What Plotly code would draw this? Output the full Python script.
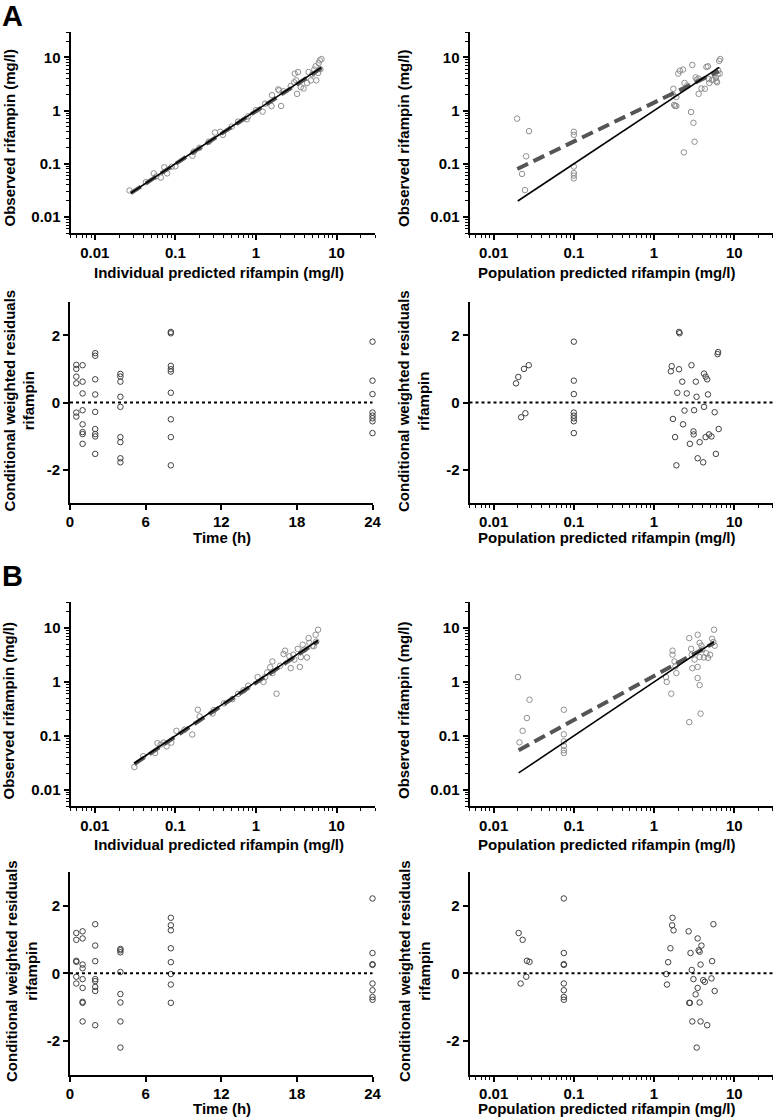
import math
import plotly.graph_objects as go

# ---------------- DATA ----------------
# Panel A1: observed vs individual predicted
a1_ipred = [0.027, 0.043, 0.054, 0.058, 0.066, 0.073, 0.079, 0.09, 0.1, 0.163, 0.17, 0.2, 0.26, 0.31, 0.36,
            0.39, 0.5, 0.6, 0.77, 0.8, 1.0, 1.21, 1.3, 1.56, 1.58, 1.89, 1.94, 2.05, 2.2, 2.7, 2.98, 3.03,
            3.16, 3.23, 3.33, 3.6, 3.9, 4.3, 4.5, 4.8, 5.0, 5.3, 5.5, 5.6, 5.9, 6.0, 6.2, 6.3, 6.5]
a1_dv = [0.0315, 0.045, 0.066, 0.058, 0.055, 0.086, 0.066, 0.088, 0.09, 0.142, 0.17, 0.2, 0.26, 0.387, 0.40,
         0.35, 0.5, 0.62, 0.686, 0.78, 1.02, 0.954, 1.35, 1.22, 1.95, 2.5, 2.4, 1.22, 2.3, 2.9, 3.4, 4.96,
         3.7, 2.06, 5.3, 2.75, 2.6, 3.3, 5.3, 3.7, 4.8, 5.9, 6.8, 3.7, 5.1, 7.8, 8.8, 6.0, 9.3]
a1_line_x = [0.028, 6.5]
a1_line_y = [0.028, 6.5]
a1_fit_x = [0.028, 6.5]
a1_fit_y = [0.028, 6.3]

# Panel A2: observed vs population predicted
a2_pred = [0.0196, 0.0276, 0.0254, 0.0226, 0.0246, 0.1, 0.1, 0.1, 0.1, 0.1, 0.1,
           1.74, 1.72, 1.78, 1.83, 1.9, 2.0, 2.1, 2.3, 1.9, 2.4, 2.6, 3.0, 2.9, 3.1, 3.2, 2.35,
           3.3, 3.4, 3.6, 3.6, 3.9, 4.3, 4.5, 4.7, 4.8, 4.9, 5.3, 5.5, 5.9, 6.1, 6.3, 6.2, 6.6,
           6.5, 6.7, 6.0]
a2_dv = [0.706, 0.41, 0.138, 0.0645, 0.032, 0.40, 0.35, 0.0887, 0.067, 0.060, 0.053,
         2.57, 2.0, 1.28, 1.22, 1.22, 4.95, 5.6, 5.9, 1.8, 3.3, 2.95, 7.2, 0.94, 0.59, 0.26, 0.164,
         4.2, 3.8, 4.0, 2.06, 2.6, 2.57, 6.6, 6.8, 3.9, 3.3, 3.8, 3.8, 4.1, 3.4, 5.7, 4.8, 4.95,
         8.6, 9.3, 3.6]
a2_line_x = [0.02, 6.5]
a2_line_y = [0.02, 6.5]
a2_fit_x = [0.0197, 6.4]
a2_fit_y = [0.080, 5.48]

# Panel A3: CWRES vs time
a3_time = [0.5] * 6 + [1] * 8 + [2] * 9 + [4] * 9 + [8] * 9 + [24] * 8
a3_cwres = [1.12, 1.0, 0.77, 0.57, -0.30, -0.42,
            1.11, 0.62, 0.27, -0.23, -0.65, -0.88, -0.94, -1.23,
            1.47, 1.39, 0.69, 0.24, -0.28, -0.79, -0.94, -1.01, -1.53,
            0.85, 0.77, 0.62, 0.17, -0.13, -1.03, -1.18, -1.66, -1.78,
            2.10, 2.06, 1.09, 0.99, 0.92, 0.29, -0.50, -1.03, -1.87,
            1.81, 0.65, 0.25, -0.30, -0.39, -0.47, -0.56, -0.91]

# Panel A4: CWRES vs population predicted
a4_pred = [0.019, 0.0203, 0.0239, 0.0274, 0.022, 0.0249,
           0.1, 0.1, 0.1, 0.1, 0.1, 0.1, 0.1, 0.1,
           2.05, 2.08, 1.66, 1.62, 2.05, 2.93, 4.2, 4.4, 4.6, 2.25, 3.32, 1.95, 2.56, 3.39, 4.7,
           6.2, 6.3, 2.4, 3.16, 4.2, 5.7, 1.72, 2.3, 6.4, 3.1, 3.12, 4.4, 4.85, 5.2, 1.83, 2.8,
           3.7, 5.9, 3.5, 4.1, 1.9]
a4_cwres = [0.57, 0.76, 1.0, 1.11, -0.44, -0.32,
            1.81, 0.65, 0.25, -0.30, -0.39, -0.47, -0.56, -0.91,
            2.10, 2.06, 1.08, 0.93, 0.99, 1.11, 0.86, 0.77, 0.69, 0.62, 0.62, 0.29, 0.27, 0.17, 0.24,
            1.44, 1.50, -0.24, -0.23, -0.13, -0.29, -0.49, -0.65, -0.79, -0.86, -0.95, -1.03, -0.95,
            -1.01, -1.03, -1.23, -1.18, -1.53, -1.66, -1.78, -1.87]

# Panel B1: observed vs individual predicted
b1_ipred = [0.031, 0.04, 0.056, 0.06, 0.066, 0.072, 0.078, 0.089, 0.103, 0.13, 0.162, 0.19, 0.2, 0.29,
            0.4, 0.51, 0.6, 0.8, 1.05, 1.24, 1.3, 1.38, 1.5, 1.6, 1.6, 1.8, 2.2, 2.3, 2.6, 2.7, 2.9,
            3.0, 3.3, 3.5, 3.6, 3.8, 4.0, 4.3, 4.5, 4.6, 5.0, 5.2, 5.5, 5.6, 5.9, 2.0, 0.7, 0.3]
b1_dv = [0.0264, 0.042, 0.048, 0.0735, 0.069, 0.075, 0.064, 0.075, 0.124, 0.13, 0.106, 0.305, 0.23, 0.26,
         0.4, 0.48, 0.6, 0.85, 1.23, 1.0, 1.23, 1.5, 1.87, 1.46, 2.4, 0.605, 3.3, 3.8, 3.0, 1.8, 3.2,
         2.6, 4.1, 1.9, 2.9, 4.9, 4.0, 2.85, 6.5, 5.3, 4.7, 4.6, 7.5, 5.6, 9.3, 2.0, 0.7, 0.3]
b1_line_x = [0.031, 5.9]
b1_line_y = [0.031, 5.9]
b1_fit_x = [0.031, 5.9]
b1_fit_y = [0.030, 5.7]

# Panel B2: observed vs population predicted
b2_pred = [0.0201, 0.021, 0.023, 0.026, 0.028, 0.075, 0.075, 0.075, 0.075, 0.075, 0.075,
           1.41, 1.44, 1.64, 1.7, 1.7, 1.8, 1.85, 1.9, 2.75, 2.75, 2.9, 2.95, 3.0, 3.2, 3.5, 3.5,
           3.5, 3.7, 3.7, 3.8, 3.7, 3.9, 3.98, 4.2, 4.5, 4.7, 5.0, 5.3, 5.5, 5.6, 5.7]
b2_dv = [1.23, 0.0757, 0.124, 0.214, 0.468, 0.305, 0.107, 0.079, 0.065, 0.054, 0.048,
         1.23, 1.0, 0.605, 3.8, 3.2, 2.4, 1.95, 1.46, 6.5, 0.18, 4.1, 3.2, 1.8, 2.6, 7.5, 1.9,
         1.18, 0.875, 5.3, 0.258, 2.9, 4.7, 4.0, 2.85, 3.4, 2.8, 3.2, 6.3, 5.5, 9.3, 4.7]
b2_line_x = [0.0205, 5.6]
b2_line_y = [0.0205, 5.6]
b2_fit_x = [0.0205, 5.6]
b2_fit_y = [0.054, 5.3]

# Panel B3: CWRES vs time
b3_time = [0.5] * 6 + [1] * 9 + [2] * 8 + [4] * 8 + [8] * 8 + [24] * 8
b3_cwres = [1.19, 0.99, 0.37, 0.34, -0.10, -0.30,
            1.24, 1.03, 0.26, 0.15, -0.17, -0.43, -0.84, -0.87, -1.42,
            1.45, 0.82, 0.36, -0.17, -0.23, -0.40, -0.52, -1.53,
            0.72, 0.68, 0.62, 0.04, -0.61, -0.86, -1.42, -2.19,
            1.64, 1.42, 1.27, 0.74, 0.33, -0.02, -0.33, -0.87,
            2.21, 0.60, 0.27, 0.25, -0.30, -0.50, -0.70, -0.78]

# Panel B4: CWRES vs population predicted
b4_pred = [0.0205, 0.023, 0.026, 0.028, 0.0255, 0.0217,
           0.075, 0.075, 0.075, 0.075, 0.075, 0.075, 0.075, 0.075,
           1.7, 1.68, 1.75, 1.6, 1.5, 1.42, 1.45, 2.7, 2.75, 2.85, 2.95, 3.1, 3.3, 3.5, 3.6,
           3.7, 3.8, 3.9, 4.1, 4.3, 3.5, 3.7, 5.5, 5.2, 5.3, 5.7, 3.0, 3.8, 4.6, 3.4, 2.8]
b4_cwres = [1.19, 0.99, 0.37, 0.34, -0.10, -0.30,
            2.21, 0.60, 0.27, 0.25, -0.30, -0.50, -0.70, -0.78,
            1.64, 1.42, 1.27, 0.74, 0.33, -0.02, -0.33, 1.24, -0.87, 0.60, 0.10, -0.17, -0.62,
            1.03, 0.68, 0.64, 0.26, 0.82, -0.20, -0.25, -0.43, -0.86, 1.45, -0.15, 0.36, -0.52,
            -1.42, -1.42, -1.53, -2.19, -0.87]

# Tick labels
log_tickvals = [0.01, 0.1, 1, 10]
log_ticktext = ["0.01", "0.1", "1", "10"]
res_tickvals = [-2, 0, 2]
res_ticktext = ["-2", "0", "2"]
time_tickvals = [0, 6, 12, 18, 24]
time_ticktext = ["0", "6", "12", "18", "24"]

# Axis titles and panel letters
OBS = "Observed rifampin (mg/l)"
IPRED_T = "Individual predicted rifampin (mg/l)"
PRED_T = "Population predicted rifampin (mg/l)"
TIME_T = "Time (h)"
CWRES_T = "Conditional weighted residuals<br>rifampin"
panel_letters = ["A", "B"]

# ---------------- STYLE ----------------
FONT = "Liberation Sans"
W, H = 776, 1120
TICKFONT = dict(family=FONT, size=15, color="black", weight="bold")
DV_MARK = dict(symbol="circle-open", size=5.5, color="#8f8f8f", line=dict(width=1))
RES_MARK = dict(symbol="circle-open", size=5.5, color="#404040", line=dict(width=1))

LOG_RANGE = [math.log10(0.005), math.log10(30)]


def px_x(a, b):
    return [a / W, b / W]


def px_y(top, bottom):
    return [1 - bottom / H, 1 - top / H]


base_axis = dict(showline=True, linecolor="black", linewidth=2, ticks="outside", ticklen=5,
                 tickwidth=1.5, tickcolor="black", showgrid=False, zeroline=False,
                 tickfont=TICKFONT, automargin=False)


def log_axis(domain, anchor, standoff=0):
    d = dict(base_axis)
    d.update(type="log", range=LOG_RANGE, domain=domain, anchor=anchor,
             tickmode="array", tickvals=log_tickvals, ticktext=log_ticktext,
             ticklabelstandoff=standoff,
             minor=dict(dtick="D1", tick0=0, ticks="outside", ticklen=3,
                        tickwidth=1, tickcolor="black", showgrid=False))
    return d


def res_axis(domain, anchor):
    d = dict(base_axis)
    d.update(range=[-3, 3], domain=domain, anchor=anchor, tickmode="array",
             tickvals=res_tickvals, ticktext=res_ticktext)
    return d


def time_axis(domain, anchor):
    d = dict(base_axis)
    d.update(range=[0, 24], domain=domain, anchor=anchor, tickmode="array",
             tickvals=time_tickvals, ticktext=time_ticktext, ticklabelstandoff=-1)
    return d


LEFT = px_x(70.5, 375)
LEFT_T = px_x(70, 372.5)
RIGHT = px_x(469.5, 772.5)
ROW1 = px_y(32, 233)
ROW2 = px_y(301.7, 503.3)
ROW3 = px_y(602.3, 806)
ROW4 = px_y(871.7, 1075)

layout = dict(width=W, height=H, margin=dict(l=0, r=0, t=0, b=0),
              plot_bgcolor="white", paper_bgcolor="white", showlegend=False)

# axes: 1 A1, 2 A2, 3 A3, 4 A4, 5 B1, 6 B2, 7 B3, 8 B4
layout["xaxis"] = log_axis(LEFT, "y")
layout["yaxis"] = log_axis(ROW1, "x")
layout["xaxis2"] = log_axis(RIGHT, "y2")
layout["yaxis2"] = log_axis(ROW1, "x2")
layout["xaxis3"] = time_axis(LEFT_T, "y3")
layout["yaxis3"] = res_axis(ROW2, "x3")
layout["xaxis4"] = log_axis(RIGHT, "y4", -1)
layout["yaxis4"] = res_axis(ROW2, "x4")
layout["xaxis5"] = log_axis(LEFT, "y5")
layout["yaxis5"] = log_axis(ROW3, "x5")
layout["xaxis6"] = log_axis(RIGHT, "y6")
layout["yaxis6"] = log_axis(ROW3, "x6")
layout["xaxis7"] = time_axis(LEFT_T, "y7")
layout["yaxis7"] = res_axis(ROW4, "x7")
layout["xaxis8"] = log_axis(RIGHT, "y8", -1)
layout["yaxis8"] = res_axis(ROW4, "x8")

fig = go.Figure(layout=layout)


def add_obs_panel(n, xs, ys, lx, ly, fx, fy):
    xa = "x" if n == 1 else f"x{n}"
    ya = "y" if n == 1 else f"y{n}"
    fig.add_trace(go.Scatter(x=xs, y=ys, mode="markers", marker=DV_MARK, xaxis=xa, yaxis=ya,
                             cliponaxis=False, hoverinfo="skip"))
    fig.add_trace(go.Scatter(x=fx, y=fy, mode="lines", xaxis=xa, yaxis=ya, hoverinfo="skip",
                             line=dict(color="#555555", width=4, dash="12px,6px")))
    fig.add_trace(go.Scatter(x=lx, y=ly, mode="lines", xaxis=xa, yaxis=ya, hoverinfo="skip",
                             line=dict(color="black", width=1.6)))


def add_res_panel(n, xs, ys):
    xa = f"x{n}"
    ya = f"y{n}"
    fig.add_shape(type="line", xref=f"{xa} domain", yref=ya, x0=0, x1=1, y0=0, y1=0,
                  line=dict(color="black", width=2, dash="dot"))
    fig.add_trace(go.Scatter(x=xs, y=ys, mode="markers", marker=RES_MARK, xaxis=xa, yaxis=ya,
                             cliponaxis=False, hoverinfo="skip"))


add_obs_panel(1, a1_ipred, a1_dv, a1_line_x, a1_line_y, a1_fit_x, a1_fit_y)
add_obs_panel(2, a2_pred, a2_dv, a2_line_x, a2_line_y, a2_fit_x, a2_fit_y)
add_res_panel(3, a3_time, a3_cwres)
add_res_panel(4, a4_pred, a4_cwres)
add_obs_panel(5, b1_ipred, b1_dv, b1_line_x, b1_line_y, b1_fit_x, b1_fit_y)
add_obs_panel(6, b2_pred, b2_dv, b2_line_x, b2_line_y, b2_fit_x, b2_fit_y)
add_res_panel(7, b3_time, b3_cwres)
add_res_panel(8, b4_pred, b4_cwres)


def text_at(text, xpix, ypix, angle=0, size=15):
    fig.add_annotation(text=text, xref="paper", yref="paper", x=xpix / W, y=1 - ypix / H,
                       xanchor="center", yanchor="middle", showarrow=False, textangle=angle,
                       font=dict(family=FONT, size=size, color="black", weight="bold"))


# x-axis titles
text_at(IPRED_T, 219, 272)
text_at(PRED_T, 607, 272)
text_at(TIME_T, 221.5, 537)
text_at(PRED_T, 607, 537)
text_at(IPRED_T, 219, 844)
text_at(PRED_T, 607, 844)
text_at(TIME_T, 221.5, 1108.5)
text_at(PRED_T, 607, 1108.5)
# y-axis titles
text_at(OBS, 8.5, 138, -90)
text_at(OBS, 403, 138, -90)
text_at(CWRES_T, 19.5, 401, -90)
text_at(CWRES_T, 414, 401, -90)
text_at(OBS, 7.5, 711, -90)
text_at(OBS, 403, 710, -90)
text_at(CWRES_T, 21, 971, -90)
text_at(CWRES_T, 414, 971, -90)

# panel letters
for label, ypix in zip(panel_letters, (16, 576)):
    fig.add_annotation(text=label, xref="paper", yref="paper", x=0, y=1 - ypix / H,
                       xanchor="left", yanchor="middle", showarrow=False,
                       font=dict(family=FONT, size=29, color="black", weight="bold"))

fig.write_html("out.html", config={"displayModeBar": False},
               post_script="document.body.style.margin='0px';")
